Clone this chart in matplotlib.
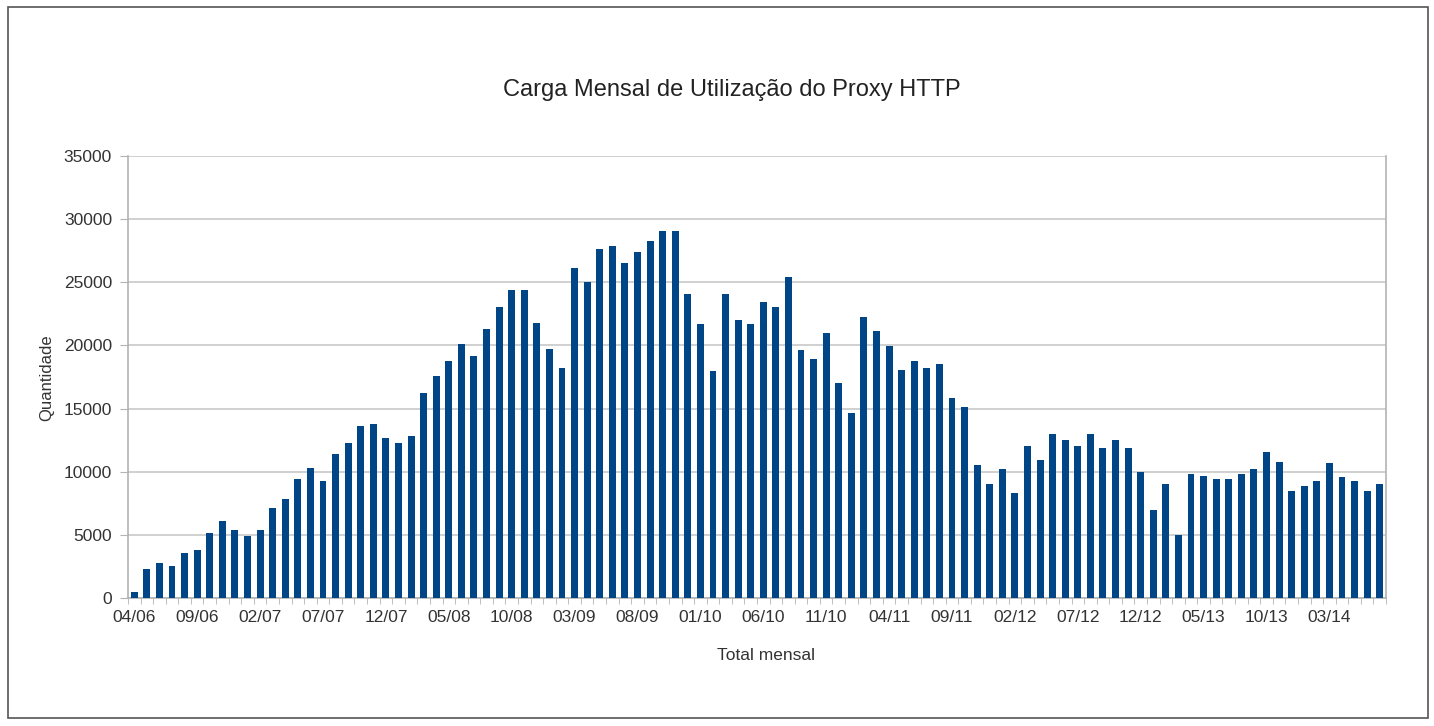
import matplotlib
matplotlib.use("Agg")
import matplotlib.pyplot as plt
from matplotlib.patches import Rectangle
import numpy as np

plt.rcParams["font.family"] = ["Liberation Sans", "DejaVu Sans"]

# Monthly totals, 04/06 .. 07/14
totais = [
    500, 2300, 2800, 2500, 3600, 3800, 5150, 6100, 5400, 4900,
    5400, 7100, 7800, 9400, 10300, 9300, 11400, 12300, 13600, 13800,
    12700, 12300, 12800, 16200, 17600, 18750, 20150, 19200, 21300, 23050,
    24350, 24350, 21800, 19700, 18200, 26150, 25000, 27600, 27900, 26500,
    27400, 28300, 29100, 29100, 24050, 21700, 18000, 24100, 22050, 21700,
    23450, 23050, 25400, 19600, 18950, 21000, 17000, 14650, 22250, 21150,
    19950, 18050, 18800, 18250, 18550, 15850, 15150, 10550, 9000, 10250,
    8300, 12050, 10900, 12950, 12550, 12050, 12950, 11900, 12500, 11900,
    9950, 6950, 9000, 4950, 9850, 9700, 9450, 9450, 9850, 10250,
    11600, 10800, 8500, 8850, 9250, 10700, 9600, 9250, 8500, 9000,
]
rotulos = ["04/06", "09/06", "02/07", "07/07", "12/07", "05/08", "10/08",
           "03/09", "08/09", "01/10", "06/10", "11/10", "04/11", "09/11",
           "02/12", "07/12", "12/12", "05/13", "10/13", "03/14"]
y_ticks = [0, 5000, 10000, 15000, 20000, 25000, 30000, 35000]

W, H = 1434, 726
fig = plt.figure(figsize=(W / 100, H / 100), dpi=100)
fig.patches.append(Rectangle((8 / W, 8 / H), 1420 / W, 711 / H,
                             transform=fig.transFigure, fill=False,
                             edgecolor="#555555", linewidth=1.2))

ax = fig.add_axes([128 / W, 1 - 598 / H, 1258 / W, 442 / H])
x = np.arange(len(totais))
ax.bar(x, totais, width=0.55, color="#004586", zorder=3)

ax.set_xlim(-0.5, len(totais) - 0.5)
ax.set_ylim(0, 35000)
ax.set_yticks(y_ticks)
ax.set_yticklabels([str(v) for v in y_ticks], fontsize=12.5, color="#333333")
ax.set_xticks(np.arange(0, len(totais), 5))
ax.set_xticklabels(rotulos, fontsize=12.5, color="#333333")
ax.set_xticks(np.arange(-0.5, len(totais), 1), minor=True)
ax.tick_params(axis="x", which="major", length=0, pad=9)
ax.tick_params(axis="x", which="minor", length=4, color="#b3b3b3")
ax.tick_params(axis="y", length=5.5, color="#b3b3b3", pad=6)

ax.grid(axis="y", color="#c8c8c8", linewidth=1.2, zorder=0)
for side in ["left", "bottom", "right"]:
    ax.spines[side].set_color("#b3b3b3")
    ax.spines[side].set_linewidth(1.2)
ax.spines["top"].set_visible(False)

fig.text(47 / W, 1 - 378 / H, "Quantidade", rotation=90,
         ha="center", va="center", fontsize=12, color="#333333")
fig.text(766 / W, 1 - 655 / H, "Total mensal",
         ha="center", va="center", fontsize=12.5, color="#333333")
fig.text(732 / W, 1 - 90 / H, "Carga Mensal de Utilização do Proxy HTTP",
         ha="center", va="center", fontsize=17, color="#222222")

fig.savefig("out.png", dpi=100)
